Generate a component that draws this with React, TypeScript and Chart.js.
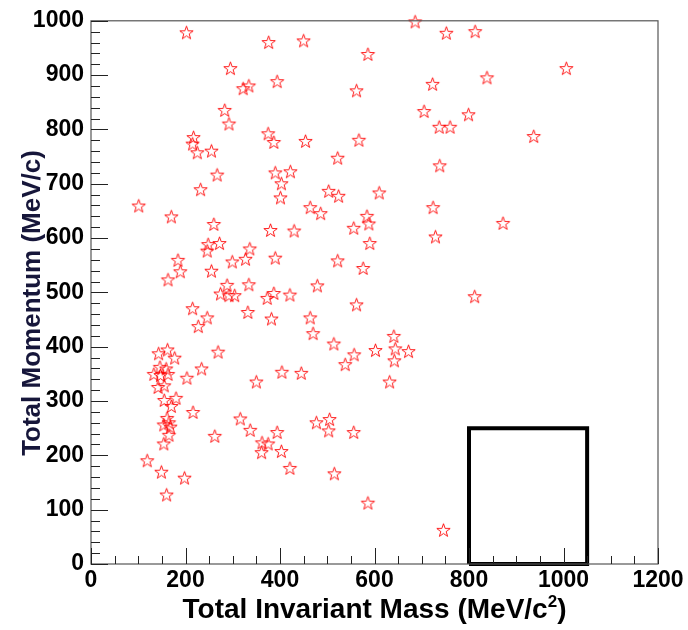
import React, { useEffect, useRef } from 'react';
import { Chart, registerables } from 'chart.js';

Chart.register(...registerables);

// Total invariant mass (MeV/c^2) of each event
const massValues = [
  202, 376, 295, 322, 334, 394, 283, 292, 217, 215, 225, 255, 375, 387, 267, 232, 390, 403, 401, 101,
  686, 450, 752, 813, 586, 562, 723, 705, 799, 737, 760, 454, 567, 522, 738, 422, 503, 524, 610, 464,
  724, 1006, 838, 937, 170, 260, 380, 248, 246, 272, 336, 327, 299, 390, 184, 189, 255, 163, 288, 334,
  274, 292, 304, 373, 387, 215, 246, 227, 332, 382, 486, 584, 588, 556, 430, 729, 590, 522, 576, 479,
  421, 562, 812, 464, 470, 514, 641, 644, 672, 602, 642, 557, 538, 445, 632, 404, 350, 269, 234, 203,
  872, 162, 143, 177, 146, 159, 133, 163, 147, 142, 155, 155, 180, 170, 216, 161, 165, 154, 168, 165,
  154, 316, 337, 262, 394, 362, 375, 361, 403, 119, 149, 198, 160, 421, 477, 505, 503, 556, 515, 586,
  746,
];

// Total momentum (MeV/c) of each event
const momentumValues = [
  978, 960, 912, 875, 880, 888, 835, 810, 785, 773, 757, 760, 792, 776, 716, 689, 720, 700, 674, 659,
  998, 963, 977, 980, 938, 871, 883, 833, 827, 804, 804, 778, 780, 747, 733, 722, 686, 677, 683, 656,
  656, 912, 895, 787, 639, 625, 614, 588, 576, 590, 580, 561, 556, 563, 559, 538, 539, 523, 513, 514,
  497, 494, 494, 489, 498, 470, 453, 437, 463, 451, 645, 640, 626, 618, 613, 602, 590, 558, 544, 512,
  495, 477, 492, 453, 424, 405, 419, 396, 391, 393, 374, 385, 367, 351, 335, 353, 335, 390, 359, 342,
  627, 394, 387, 379, 362, 359, 349, 349, 347, 325, 328, 301, 305, 290, 279, 268, 260, 256, 252, 237,
  221, 267, 246, 235, 242, 223, 221, 205, 207, 190, 169, 158, 127, 176, 260, 266, 245, 242, 166, 112,
  62,
];

// Signal region box
const boxMass = [800, 800, 1050, 1050, 800];
const boxMomentum = [0, 250, 250, 0, 0];

const xTicks = [0, 200, 400, 600, 800, 1000, 1200];
const yTicks = [0, 100, 200, 300, 400, 500, 600, 700, 800, 900, 1000];
const xMinorStep = 50;
const yMinorStep = 20;

const xTitle = 'Total Invariant Mass (MeV/c';
const xTitleSup = '2';
const xTitleEnd = ')';
const yTitle = 'Total Momentum (MeV/c)';

function makeStar(): HTMLCanvasElement {
  const c = document.createElement('canvas');
  c.width = 17;
  c.height = 17;
  const g = c.getContext('2d')!;
  const cx = 8.5, cy = 8.8, ro = 7, ri = 2.8;
  g.beginPath();
  for (let i = 0; i < 10; i++) {
    const r = i % 2 === 0 ? ro : ri;
    const a = -Math.PI / 2 + (i * Math.PI) / 5;
    const px = cx + r * Math.cos(a);
    const py = cy + r * Math.sin(a);
    if (i === 0) g.moveTo(px, py);
    else g.lineTo(px, py);
  }
  g.closePath();
  g.strokeStyle = 'rgba(255,0,0,0.9)';
  g.lineWidth = 1;
  g.stroke();
  return c;
}

const decorPlugin = {
  id: 'rootDecor',
  afterDraw(chart: any) {
    const { ctx, chartArea, scales } = chart;
    const xs = scales.x, ys = scales.y;
    const { left, right, top, bottom } = chartArea;
    ctx.save();
    // frame
    ctx.strokeStyle = '#555';
    ctx.lineWidth = 1.2;
    ctx.strokeRect(left, top, right - left, bottom - top);
    // ticks
    ctx.strokeStyle = '#222';
    ctx.lineWidth = 1;
    ctx.beginPath();
    for (let v = xs.min; v <= xs.max + 1e-6; v += xMinorStep) {
      const px = Math.round(xs.getPixelForValue(v)) + 0.5;
      const major = xTicks.includes(v);
      const len = major ? 16 : 8;
      ctx.moveTo(px, bottom);
      ctx.lineTo(px, bottom - len);
    }
    for (let v = ys.min; v <= ys.max + 1e-6; v += yMinorStep) {
      const py = Math.round(ys.getPixelForValue(v)) + 0.5;
      const major = yTicks.includes(v);
      const len = major ? 17 : 9;
      ctx.moveTo(left, py);
      ctx.lineTo(left + len, py);
    }
    ctx.stroke();

    // x title with superscript
    ctx.fillStyle = '#000';
    ctx.textBaseline = 'alphabetic';
    const mainFont = 'bold 28px "Liberation Sans", Arial, sans-serif';
    const supFont = 'bold 17px "Liberation Sans", Arial, sans-serif';
    ctx.font = mainFont;
    const w1 = ctx.measureText(xTitle).width;
    const w3 = ctx.measureText(xTitleEnd).width;
    ctx.font = supFont;
    const w2 = ctx.measureText(xTitleSup).width;
    const total = w1 + w2 + w3;
    const cx = (left + right) / 2;
    const x0 = cx - total / 2;
    const base = 618;
    ctx.textAlign = 'left';
    ctx.font = mainFont;
    ctx.fillText(xTitle, x0, base);
    ctx.font = supFont;
    ctx.fillText(xTitleSup, x0 + w1, base - 11);
    ctx.font = mainFont;
    ctx.fillText(xTitleEnd, x0 + w1 + w2, base);

    // y title
    ctx.save();
    ctx.translate(40, 303);
    ctx.rotate(-Math.PI / 2);
    ctx.textAlign = 'center';
    ctx.fillStyle = '#16163a';
    ctx.font = 'bold 26px "Liberation Sans", Arial, sans-serif';
    ctx.fillText(yTitle, 0, 0);
    ctx.restore();

    ctx.restore();
  },
};

export default function App() {
  const ref = useRef<HTMLCanvasElement>(null);
  useEffect(() => {
    const star = makeStar();
    const points = massValues.map((m, i) => ({ x: m, y: momentumValues[i] }));
    const box = boxMass.map((m, i) => ({ x: m, y: boxMomentum[i] }));
    const tickFont = { family: '"Liberation Sans", Arial, sans-serif', weight: 'bold' as const, size: 23 };
    const fmt = (v: any) => String(v);
    const chart = new Chart(ref.current!, {
      type: 'scatter',
      data: {
        datasets: [
          {
            type: 'line',
            data: box,
            borderColor: '#000',
            borderWidth: 4,
            pointRadius: 0,
            showLine: true,
            fill: false,
            tension: 0,
            clip: false,
            borderJoinStyle: 'miter',
          } as any,
          {
            data: points,
            pointStyle: star as any,
            pointRadius: 7,
            clip: false,
          } as any,
        ],
      },
      options: {
        animation: false,
        responsive: false,
        events: [],
        layout: { padding: { top: 19, right: 30, left: 0, bottom: 0 } },
        plugins: { legend: { display: false }, tooltip: { enabled: false }, title: { display: false } },
        scales: {
          x: {
            type: 'linear',
            min: 0,
            max: 1200,
            grid: { display: false, drawTicks: false },
            border: { display: false },
            afterBuildTicks: (axis: any) => { axis.ticks = xTicks.map((v) => ({ value: v })); },
            afterFit: (axis: any) => { axis.height = 66; },
            ticks: { font: tickFont, color: '#000', padding: 3, maxRotation: 0, autoSkip: false, callback: fmt },
          },
          y: {
            type: 'linear',
            min: 0,
            max: 1000,
            grid: { display: false, drawTicks: false },
            border: { display: false },
            afterBuildTicks: (axis: any) => { axis.ticks = yTicks.map((v) => ({ value: v })); },
            afterFit: (axis: any) => { axis.width = 91; },
            ticks: { font: tickFont, color: '#000', padding: 7, autoSkip: false, callback: fmt },
          },
        },
      },
      plugins: [decorPlugin],
    });
    return () => chart.destroy();
  }, []);
  return (
    <div style={{ position: 'fixed', left: 0, top: 0, width: 688, height: 630, background: '#fff' }}>
      <canvas ref={ref} width={688} height={630} style={{ width: 688, height: 630, display: 'block' }} />
    </div>
  );
}
